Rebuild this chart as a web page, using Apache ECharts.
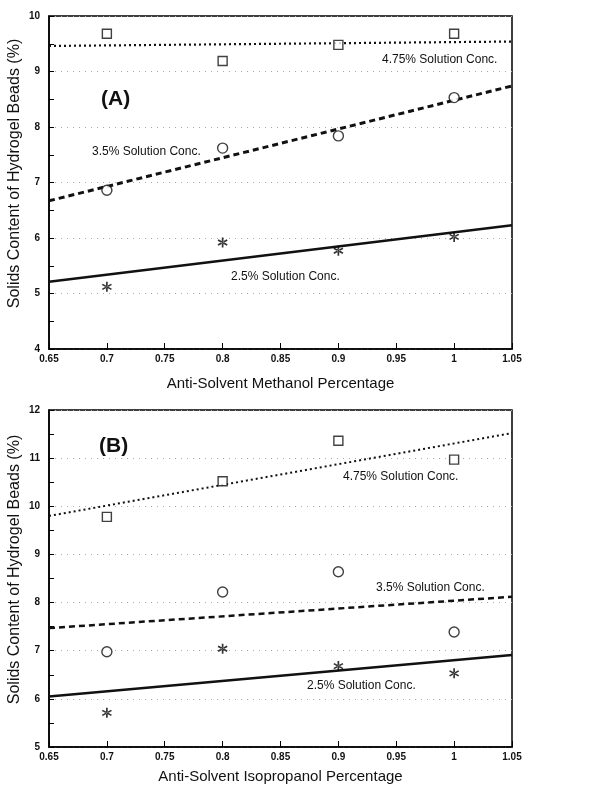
<!DOCTYPE html>
<html>
<head>
<meta charset="utf-8">
<script src="https://cdn.jsdelivr.net/npm/echarts@6/dist/echarts.min.js"></script>
<style>
  html, body { margin: 0; padding: 0; background: #fff; }
  #chart { width: 610px; height: 788px; }
</style>
</head>
<body>
<div id="chart"></div>
<script>
// anti-solvent fraction (x)
const xPoints = [0.7, 0.8, 0.9, 1.0];
const fitX = [0.65, 1.05];

// (A) methanol
const methanol475 = [9.68, 9.19, 9.48, 9.68];
const methanol35 = [6.86, 7.62, 7.84, 8.53];
const methanol25 = [5.12, 5.92, 5.77, 6.02];
const methanolFit475 = [9.46, 9.54];
const methanolFit35 = [6.67, 8.74];
const methanolFit25 = [5.21, 6.23];

// (B) isopropanol
const iso475 = [9.78, 10.52, 11.36, 10.97];
const iso35 = [6.98, 8.22, 8.64, 7.39];
const iso25 = [5.71, 7.04, 6.68, 6.53];
const isoFit475 = [9.80, 11.52];
const isoFit35 = [7.47, 8.12];
const isoFit25 = [6.05, 6.91];

const FONT = "'Liberation Sans', Arial, sans-serif";
// asterisk made of three bars
const STAR = "path://M4.2 0H5.8V10H4.2Z M1.07 1.81L9.73 6.81L8.93 8.19L0.27 3.19Z M1.07 8.19L9.73 3.19L8.93 1.81L0.27 6.81Z";

const pairs = (xs, ys) => xs.map((x, i) => [x, ys[i]]);

function xAxis(idx, name, gap) {
  return {
    type: "value", gridIndex: idx, min: 0.65, max: 1.05, interval: 0.05,
    name: name, nameLocation: "middle", nameGap: gap,
    nameTextStyle: { fontFamily: FONT, fontSize: 15, color: "#111" },
    axisLine: { show: true, onZero: false, lineStyle: { color: "#000", width: 1.5 } },
    axisTick: { show: true, inside: true, length: 6, lineStyle: { color: "#000" } },
    axisLabel: {
      fontFamily: FONT, fontSize: 10, fontWeight: "bold", color: "#111", margin: 5,
      formatter: (v) => String(+v.toFixed(2)),
    },
    splitLine: { show: false },
  };
}

function yAxis(idx, min, max) {
  return {
    type: "value", gridIndex: idx, min: min, max: max, interval: 1, position: "left",
    name: "Solids Content of Hydrogel Beads (%)", nameLocation: "middle", nameGap: 26,
    nameMoveOverlap: false,
    nameTextStyle: { fontFamily: FONT, fontSize: 16, color: "#111", padding: [0, 0, 0, 18] },
    axisLine: { show: true, onZero: false, lineStyle: { color: "#000", width: 1.5 } },
    axisTick: { show: false },
    axisLabel: { fontFamily: FONT, fontSize: 10, fontWeight: "bold", color: "#111", margin: 9 },
    splitLine: { show: true, lineStyle: { color: "#aaa", type: [1, 5], width: 1 } },
  };
}

// half-unit inward ticks, drawn by an unlabeled companion axis on the left
function yTicks(idx, min, max) {
  return {
    type: "value", gridIndex: idx, min: min, max: max, interval: 0.5, position: "left",
    axisLine: { show: false },
    axisTick: { show: true, inside: true, length: 5, lineStyle: { color: "#000" } },
    axisLabel: { show: false },
    splitLine: { show: false },
  };
}

function scatter(idx, ys, symbol, size) {
  const star = symbol === STAR;
  return {
    type: "scatter", xAxisIndex: idx, yAxisIndex: idx,
    data: pairs(xPoints, ys), symbol: symbol, symbolSize: size,
    itemStyle: { color: star ? "#000" : "#fff", borderColor: "#111", borderWidth: star ? 0 : 1.4 },
    z: 5,
  };
}

function fit(idx, ys, type, width) {
  return {
    type: "line", xAxisIndex: idx, yAxisIndex: idx,
    data: pairs(fitX, ys), symbol: "none",
    lineStyle: { color: "#111", type: type, width: width },
    z: 3,
  };
}

function label(text, x, y, size, bold) {
  return {
    type: "text", left: x, top: y,
    style: { text: text, fontFamily: FONT, fontSize: size, fontWeight: bold ? "bold" : "normal", fill: "#111" },
  };
}

const chart = echarts.init(document.getElementById("chart"));
chart.setOption({
  animation: false,
  backgroundColor: "#fff",
  grid: [
    { left: 49, right: 98, top: 16, bottom: 439, outerBoundsMode: "none", containLabel: false,
      show: true, borderColor: "#000", borderWidth: 1.5 },
    { left: 49, right: 98, top: 410, bottom: 41, outerBoundsMode: "none", containLabel: false,
      show: true, borderColor: "#000", borderWidth: 1.5 },
  ],
  xAxis: [
    xAxis(0, "Anti-Solvent Methanol Percentage", 27),
    xAxis(1, "Anti-Solvent Isopropanol Percentage", 22),
  ],
  yAxis: [yAxis(0, 4, 10), yAxis(1, 5, 12), yTicks(0, 4, 10), yTicks(1, 5, 12)],
  series: [
    fit(0, methanolFit475, [2, 3], 2.2),
    fit(0, methanolFit35, [6, 4], 3),
    fit(0, methanolFit25, "solid", 2.5),
    scatter(0, methanol475, "rect", 9),
    scatter(0, methanol35, "circle", 10),
    scatter(0, methanol25, STAR, 10),
    fit(1, isoFit475, [2, 3], 2),
    fit(1, isoFit35, [6, 4], 2.5),
    fit(1, isoFit25, "solid", 2.5),
    scatter(1, iso475, "rect", 9),
    scatter(1, iso35, "circle", 10),
    scatter(1, iso25, STAR, 10),
  ],
  graphic: [
    label("(A)", 101, 89, 21, true),
    label("4.75% Solution Conc.", 382, 54, 12),
    label("3.5% Solution Conc.", 92, 146, 12),
    label("2.5% Solution Conc.", 231, 271, 12),
    label("(B)", 99, 436, 21, true),
    label("4.75% Solution Conc.", 343, 471, 12),
    label("3.5% Solution Conc.", 376, 582, 12),
    label("2.5% Solution Conc.", 307, 680, 12),
  ],
});
</script>
</body>
</html>
